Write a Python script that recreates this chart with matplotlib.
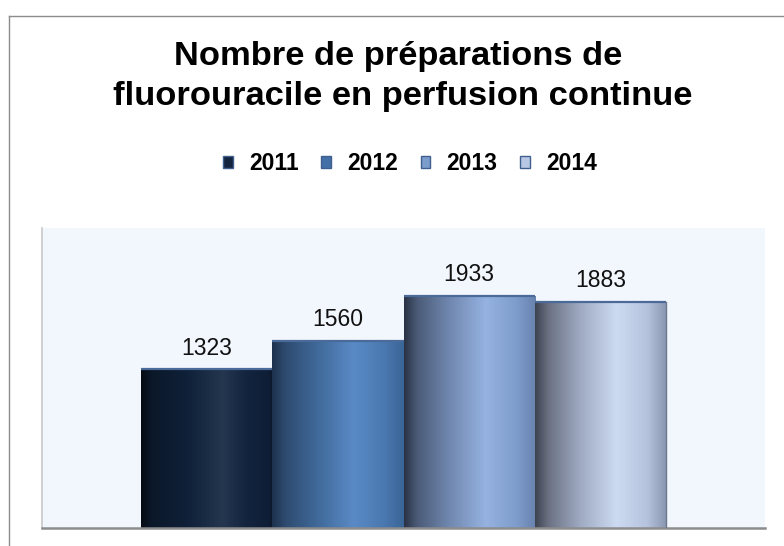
import numpy as np
import matplotlib
matplotlib.use("Agg")
import matplotlib.pyplot as plt
from matplotlib.patches import Patch
from matplotlib.lines import Line2D
from matplotlib.colors import LinearSegmentedColormap

# ---- data ----
years = ["2011", "2012", "2013", "2014"]
values = [1323, 1560, 1933, 1883]
title_lines = ["Nombre de préparations de", "fluorouracile en perfusion continue"]

# ---- styles ----
legend_colors = ["#13243f", "#4470a8", "#7c9ccc", "#b8c8e4"]
gradients = [
    [(0.0, "#060c14"), (0.08, "#0b1829"), (0.35, "#0f2038"), (0.62, "#24374f"),
     (0.8, "#13243e"), (0.97, "#0f1e36"), (1.0, "#0b1828")],
    [(0.0, "#1e314d"), (0.1, "#2e4b70"), (0.35, "#406a9a"), (0.62, "#5a8ac6"),
     (0.85, "#4a78b0"), (1.0, "#3b6597")],
    [(0.0, "#293344"), (0.1, "#4b5b78"), (0.35, "#7189b1"), (0.62, "#95b2e0"),
     (0.85, "#7f9dcc"), (1.0, "#6882ae")],
    [(0.0, "#3c424f"), (0.1, "#6b7182"), (0.35, "#a0acc4"), (0.62, "#ccdaf2"),
     (0.85, "#b5c3dd"), (1.0, "#8896b0")],
]

plt.rcParams["font.family"] = ["Liberation Sans", "DejaVu Sans"]

fig = plt.figure(figsize=(7.84, 5.46), dpi=100)
fig.patch.set_facecolor("white")

ax = fig.add_axes([42 / 784, 1 - 528 / 546, (765 - 42) / 784, (528 - 228) / 546])
ax.set_facecolor("#f2f6fd")

n = len(values)
positions = np.arange(n) - (n - 1) / 2.0
width = 1.0
margin = 99 / 131
xlim = (positions[0] - width / 2 - margin, positions[-1] + width / 2 + margin)

bars = ax.bar(positions, values, width=width, color="none", edgecolor="none", zorder=2)
for i, (b, v) in enumerate(zip(bars, values)):
    cmap = LinearSegmentedColormap.from_list(f"g{i}", gradients[i])
    grad = np.linspace(0, 1, 256).reshape(1, -1)
    x0 = b.get_x()
    im = ax.imshow(grad, cmap=cmap, aspect="auto", interpolation="bilinear",
                   extent=[x0, x0 + width, 0, v], zorder=2)
    im.set_clip_path(b)
    ax.plot([x0, x0 + width], [v, v], color="#4a6a9a", lw=1.6, zorder=3,
            solid_capstyle="butt")
    ax.text(positions[i], v + 80, str(v), ha="center", va="bottom",
            fontsize=16.5, color="#111111", zorder=4)
# right edge of last bar
xr = bars[-1].get_x() + width
ax.plot([xr, xr], [0, values[-1]], color="#6a7890", lw=1.0, zorder=3)

ax.set_xlim(*xlim)
ax.set_ylim(0, 2500)
ax.set_xticks([])
ax.set_yticks([])
for s in ["top", "right"]:
    ax.spines[s].set_visible(False)
ax.spines["left"].set_color("#c8c8c8")
ax.spines["left"].set_linewidth(1.2)
ax.spines["bottom"].set_color("#8c8c8c")
ax.spines["bottom"].set_linewidth(1.8)

# title
fig.text(398 / 784, 1 - 57 / 546, title_lines[0], ha="center", va="center",
         fontsize=24.8, fontweight="bold", color="black")
fig.text(403 / 784, 1 - 97 / 546, title_lines[1], ha="center", va="center",
         fontsize=24.8, fontweight="bold", color="black")

# legend
handles = [Patch(facecolor=c, edgecolor="#3f5f8f", linewidth=1.0) for c in legend_colors]
leg = fig.legend(handles, years, loc="center", bbox_to_anchor=(410 / 784, 1 - 164 / 546),
                 ncol=4, frameon=False, handlelength=0.42, handleheight=0.42,
                 handletextpad=0.7, columnspacing=1.0,
                 prop={"weight": "bold", "size": 16.5})

# outer frame (partially cropped)
fy = 1 - 16 / 546
fx = 9 / 784
fig.add_artist(Line2D([fx, 1.0], [fy, fy], transform=fig.transFigure, color="#8c8c8c", lw=1.0))
fig.add_artist(Line2D([fx, fx], [0, fy], transform=fig.transFigure, color="#8c8c8c", lw=1.0))

fig.savefig("out.png", dpi=100)
